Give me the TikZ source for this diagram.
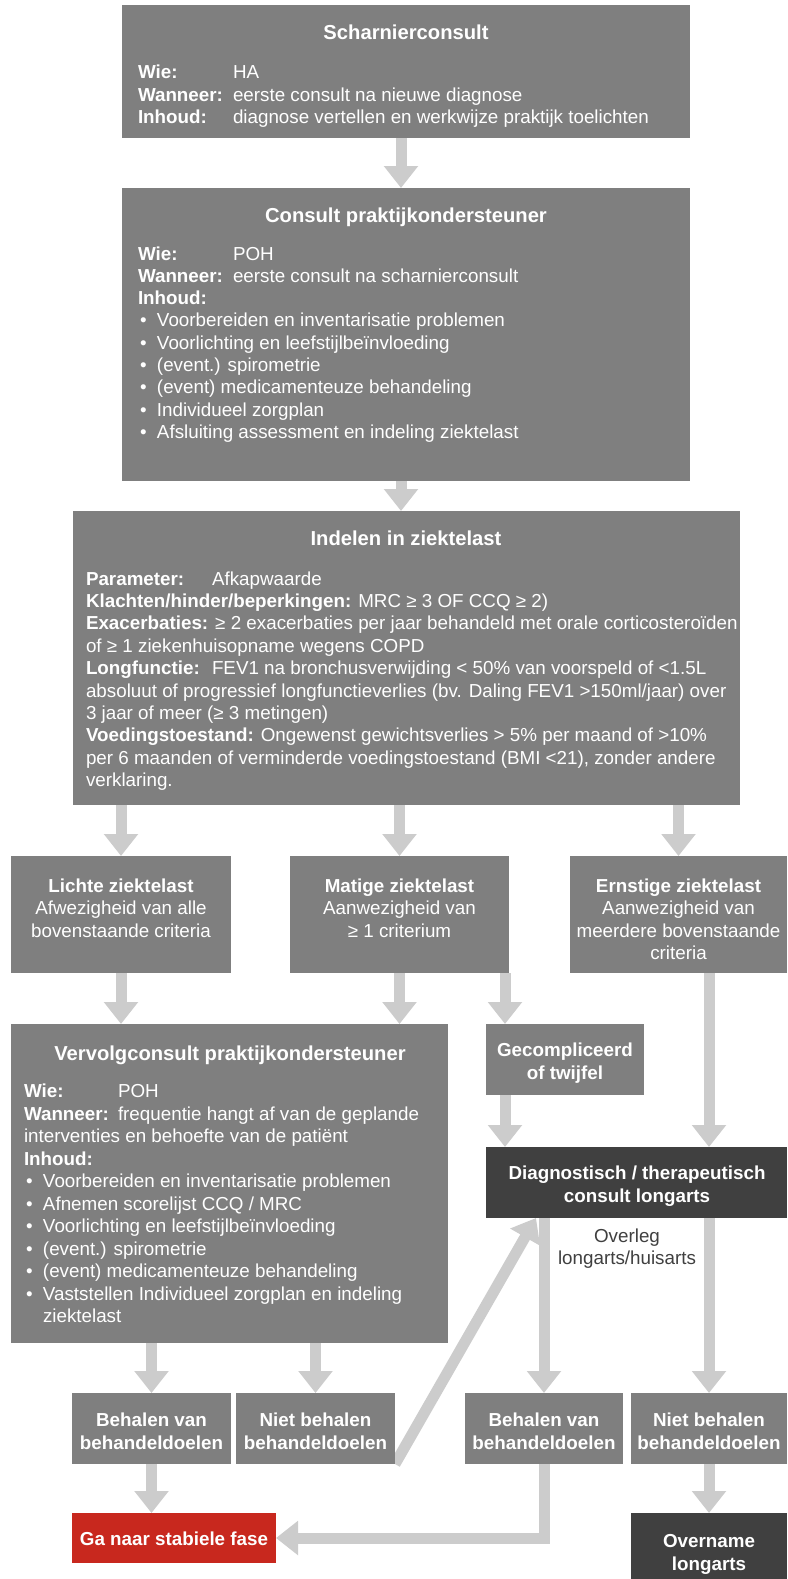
\documentclass[tikz,border=0pt]{standalone}
\usepackage{fontspec}
\setmainfont{Liberation Sans}
\usetikzlibrary{arrows.meta}
\definecolor{boxgray}{RGB}{127,127,127}
\definecolor{arrgray}{RGB}{204,204,204}
\definecolor{darkbox}{RGB}{64,64,64}
\definecolor{redbox}{RGB}{200,40,30}
\definecolor{labeltext}{RGB}{64,64,64}
\pgfdeclarelayer{bg}
\pgfdeclarelayer{back}
\pgfsetlayers{bg,back,main}
\tikzset{
  box/.style={draw=none, inner sep=0pt, outer sep=0pt, anchor=north west, rectangle, fill=boxgray},
  txt/.style={inner sep=0pt, outer sep=0pt, text=white, font=\fontsize{18.8pt}{22.5pt}\selectfont},
  bigtitle/.style={txt, font=\fontsize{20.2pt}{24pt}\selectfont\bfseries},
  arr/.style={draw=arrgray, line width=11pt, -{Triangle[width=33pt,length=22pt]}},
}
\newcommand\TL[4]{\node[txt,anchor=base west] (#1) at (#2,#3) {#4};}
\newcommand\TC[4]{\node[txt,anchor=base] (#1) at (#2,#3) {#4};}
\newcommand\TT[4]{\node[bigtitle,anchor=base] (#1) at (#2,#3) {#4};}
\newcommand\lab[2]{\makebox[#1pt][l]{\bfseries #2}}
\newcommand\bul{\makebox[17pt][l]{•}}
\begin{document}
\begin{tikzpicture}[x=1pt,y=-1pt]
\begin{pgfonlayer}{bg}
\fill[white] (0,0) rectangle (787,1579);
\end{pgfonlayer}
\useasboundingbox (0,0) rectangle (787,1579);

% boxes
\node[box, minimum width=568pt, minimum height=133pt] (b1) at (122,5) {};
\node[box, minimum width=568pt, minimum height=293pt] (b2) at (122,188) {};
\node[box, minimum width=667pt, minimum height=294pt] (b3) at (73,511) {};
\node[box, minimum width=220pt, minimum height=117pt] (lichte) at (11,856) {};
\node[box, minimum width=219pt, minimum height=117pt] (matige) at (290,856) {};
\node[box, minimum width=217pt, minimum height=117pt] (ernst) at (570,856) {};
\node[box, minimum width=437pt, minimum height=319pt] (verv) at (11,1024) {};
\node[box, minimum width=158pt, minimum height=71pt] (gec) at (486,1024) {};
\node[box, fill=darkbox, minimum width=301pt, minimum height=71pt] (diag) at (486,1147) {};
\node[box, minimum width=159pt, minimum height=71pt] (beh1) at (72,1393) {};
\node[box, minimum width=159pt, minimum height=71pt] (niet1) at (236,1393) {};
\node[box, minimum width=158pt, minimum height=71pt] (beh2) at (465,1393) {};
\node[box, minimum width=156pt, minimum height=71pt] (niet2) at (631,1393) {};
\node[box, fill=redbox, minimum width=204pt, minimum height=50pt] (red) at (72,1513) {};
\node[box, fill=darkbox, minimum width=156pt, minimum height=66pt] (over) at (631,1513) {};

% arrows
\begin{pgfonlayer}{back}
\draw[arr] (b1.south -| 401,0) -- (b2.north -| 401,0);
\draw[arr] (b2.south -| 401,0) -- (b3.north -| 401,0);
\draw[arr] (b3.south -| lichte.north) -- (lichte.north);
\draw[arr] (b3.south -| matige.north) -- (matige.north);
\draw[arr] (b3.south -| ernst.north) -- (ernst.north);
\draw[arr] (lichte.south) -- (verv.north -| lichte.south);
\draw[arr] (matige.south) -- (verv.north -| matige.south);
\draw[arr] (matige.south -| 505,0) -- (gec.north -| 505,0);
\draw[arr] (ernst.south -| niet2.north) -- (diag.north -| niet2.north);
\draw[arr] (gec.south -| 505,0) -- (diag.north -| 505,0);
\draw[arr] (diag.south -| beh2.north) -- (beh2.north);
\draw[arr] (diag.south -| niet2.north) -- (niet2.north);
\draw[arr] (verv.south -| beh1.north) -- (beh1.north);
\draw[arr] (verv.south -| niet1.north) -- (niet1.north);
\draw[arr] (beh1.south) -- (red.north -| beh1.south);
\draw[arr] (niet2.south) -- (over.north -| niet2.south);
\draw[arr] (beh2.south) |- (red.east);
\draw[arr] (niet1.south east) -- (diag.south -| 536,0);
\end{pgfonlayer}

% box 1
\TT{b1t}{406}{40}{Scharnierconsult}
\TL{b1a}{138}{78.5}{\lab{95}{Wie:}HA}
\TL{b1b}{138}{101}{\lab{95}{Wanneer:}eerste consult na nieuwe diagnose}
\TL{b1c}{138}{123.5}{\lab{95}{Inhoud:}diagnose vertellen en werkwijze praktijk toelichten}

% box 2
\TT{b2t}{406}{222}{Consult praktijkondersteuner}
\TL{b2a}{138}{260}{\lab{95}{Wie:}POH}
\TL{b2b}{138}{282.3}{\lab{95}{Wanneer:}eerste consult na scharnierconsult}
\TL{b2c}{138}{304.6}{\bfseries Inhoud:}
\TL{b2d}{140}{326.9}{\bul Voorbereiden en inventarisatie problemen}
\TL{b2e}{140}{349.2}{\bul Voorlichting en leefstijlbeïnvloeding}
\TL{b2f}{140}{371.5}{\bul (event.) spirometrie}
\TL{b2g}{140}{393.8}{\bul (event) medicamenteuze behandeling}
\TL{b2h}{140}{416.1}{\bul Individueel zorgplan}
\TL{b2i}{140}{438.4}{\bul Afsluiting assessment en indeling ziektelast}

% box 3
\TT{b3t}{406}{545}{Indelen in ziektelast}
\TL{b3a}{86}{585}{\lab{126}{Parameter:}Afkapwaarde}
\TL{b3b}{86}{607.4}{{\bfseries Klachten/hinder/beperkingen:} MRC ≥ 3 OF CCQ ≥ 2)}
\TL{b3c}{86}{629.8}{{\bfseries Exacerbaties:} ≥ 2 exacerbaties per jaar behandeld met orale corticosteroïden}
\TL{b3d}{86}{652.2}{of ≥ 1 ziekenhuisopname wegens COPD}
\TL{b3e}{86}{674.6}{\lab{126}{Longfunctie:}FEV1 na bronchusverwijding < 50\% van voorspeld of <1.5L}
\TL{b3f}{86}{697}{absoluut of progressief longfunctieverlies (bv. Daling FEV1 >150ml/jaar) over}
\TL{b3g}{86}{719.4}{3 jaar of meer (≥ 3 metingen)}
\TL{b3h}{86}{741.8}{{\bfseries Voedingstoestand:} Ongewenst gewichtsverlies > 5\% per maand of >10\%}
\TL{b3i}{86}{764.2}{per 6 maanden of verminderde voedingstoestand (BMI <21), zonder andere}
\TL{b3j}{86}{786.6}{verklaring.}

% level 2
\TC{l1}{121}{892}{\bfseries Lichte ziektelast}
\TC{l2}{121}{914.5}{Afwezigheid van alle}
\TC{l3}{121}{937}{bovenstaande criteria}
\TC{m1}{399.5}{892}{\bfseries Matige ziektelast}
\TC{m2}{399.5}{914.5}{Aanwezigheid van}
\TC{m3}{399.5}{937}{≥ 1 criterium}
\TC{e1}{678.5}{892}{\bfseries Ernstige ziektelast}
\TC{e2}{678.5}{914.5}{Aanwezigheid van}
\TC{e3}{678.5}{937}{meerdere bovenstaande}
\TC{e4}{678.5}{959.5}{criteria}

% vervolg
\TT{vt}{230}{1060}{Vervolgconsult praktijkondersteuner}
\TL{va}{24}{1097.5}{\lab{94}{Wie:}POH}
\TL{vb}{24}{1120}{\lab{94}{Wanneer:}frequentie hangt af van de geplande}
\TL{vc}{24}{1142.5}{interventies en behoefte van de patiënt}
\TL{vd}{24}{1165}{\bfseries Inhoud:}
\TL{ve}{26}{1187.5}{\bul Voorbereiden en inventarisatie problemen}
\TL{vf}{26}{1210}{\bul Afnemen scorelijst CCQ / MRC}
\TL{vg}{26}{1232.5}{\bul Voorlichting en leefstijlbeïnvloeding}
\TL{vh}{26}{1255}{\bul (event.) spirometrie}
\TL{vi}{26}{1277.5}{\bul (event) medicamenteuze behandeling}
\TL{vj}{26}{1300}{\bul Vaststellen Individueel zorgplan en indeling}
\TL{vk}{43}{1322.5}{ziektelast}

% gecompliceerd
\TC{g1}{565}{1056}{\bfseries Gecompliceerd}
\TC{g2}{565}{1079}{\bfseries of twijfel}

% diagnostisch
\TC{d1}{637}{1179}{\bfseries Diagnostisch / therapeutisch}
\TC{d2}{637}{1202}{\bfseries consult longarts}

% overleg
\node[txt, text=labeltext, anchor=base] (o1) at (627,1242) {Overleg};
\node[txt, text=labeltext, anchor=base] (o2) at (627,1264) {longarts/huisarts};

% bottom row
\TC{r1a}{151.5}{1426}{\bfseries Behalen van}
\TC{r1b}{151.5}{1449}{\bfseries behandeldoelen}
\TC{r2a}{315.5}{1426}{\bfseries Niet behalen}
\TC{r2b}{315.5}{1449}{\bfseries behandeldoelen}
\TC{r3a}{544}{1426}{\bfseries Behalen van}
\TC{r3b}{544}{1449}{\bfseries behandeldoelen}
\TC{r4a}{709}{1426}{\bfseries Niet behalen}
\TC{r4b}{709}{1449}{\bfseries behandeldoelen}
\TC{rs}{174}{1545}{\bfseries Ga naar stabiele fase}
\TC{ov1}{709}{1547}{\bfseries Overname}
\TC{ov2}{709}{1570}{\bfseries longarts}
\end{tikzpicture}
\end{document}
